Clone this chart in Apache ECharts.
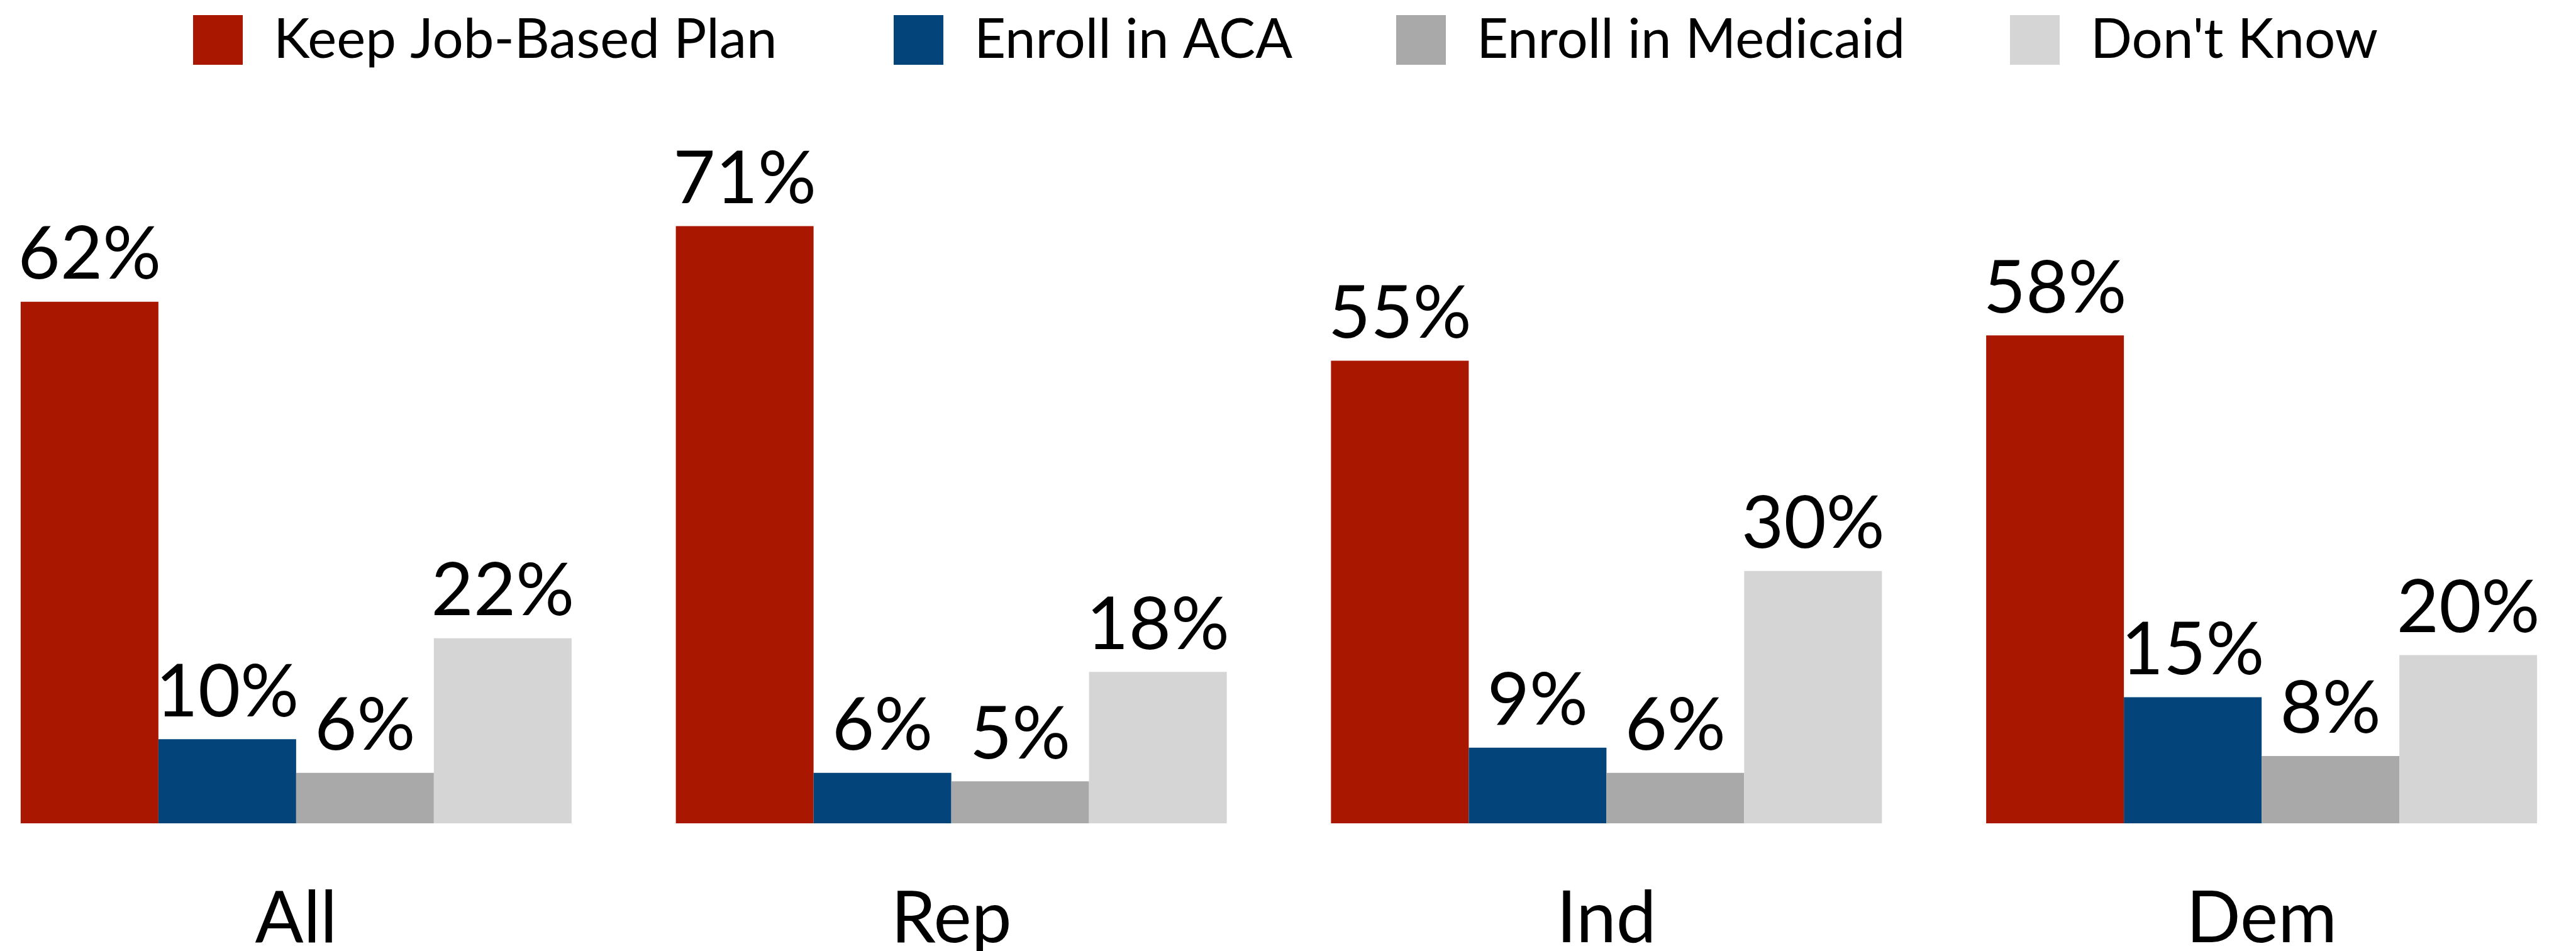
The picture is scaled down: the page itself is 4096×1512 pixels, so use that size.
<!DOCTYPE html>
<html>
<head>
<meta charset="utf-8">
<script src="https://cdn.jsdelivr.net/npm/echarts@6/dist/echarts.min.js"></script>
<style>
  html, body { margin: 0; padding: 0; background: #fff; overflow: hidden; }
  /* the outer categories run a little past the page edges, so the chart box is wider than the window */
  #chart { position: absolute; left: -50px; top: 0; width: 4167px; height: 1512px; }
</style>
</head>
<body>
<div id="chart"></div>
<script>
// party groups on the x axis
var categories = ['All', 'Rep', 'Ind', 'Dem']

var seriesNames = ['Keep Job-Based Plan', 'Enroll in ACA', 'Enroll in Medicaid', "Don't Know"]
var keepJobPlan = [62, 71, 55, 58]
var enrollAca = [10, 6, 9, 15]
var enrollMedicaid = [6, 5, 6, 8]
var dontKnow = [22, 18, 30, 20]

var colors = ['#aa1700', '#03457a', '#a9a9a9', '#d5d5d5']
var FONT = 'Lato, "Open Sans", sans-serif'

var chart = echarts.init(document.getElementById('chart'))

function barSeries(name, data, color) {
  return {
    name: name,
    type: 'bar',
    data: data,
    barWidth: 219,
    barGap: '0%',
    itemStyle: { color: color },
    label: {
      show: true,
      position: 'top',
      distance: 16,
      color: '#000',
      fontFamily: FONT,
      fontSize: 116,
      formatter: function (p) { return p.value + '%' }
    }
  }
}

// one legend per item so each box sits where the original puts it
var legendLefts = [357, 1471, 2270, 3246]
var legends = seriesNames.map(function (n, i) {
  return {
    data: [n],
    left: legendLefts[i],
    top: 20,
    padding: 0,
    itemWidth: 79,
    itemHeight: 79,
    icon: 'rect',
    selectedMode: false,
    textStyle: {
      color: '#000',
      fontFamily: FONT,
      fontSize: 87,
      padding: [0, 0, 0, 44]
    }
  }
})

chart.setOption({
  backgroundColor: '#fff',
  animation: false,
  legend: legends,
  grid: {
    left: 0,
    right: 0,
    top: 239,
    bottom: 203,
    outerBoundsMode: 'none'
  },
  xAxis: {
    type: 'category',
    data: categories,
    axisLine: { show: false },
    axisTick: { show: false },
    axisLabel: {
      color: '#000',
      fontFamily: FONT,
      fontSize: 114,
      margin: 95
    }
  },
  yAxis: {
    type: 'value',
    min: 0,
    max: 80,
    show: false,
    splitLine: { show: false }
  },
  series: [
    barSeries(seriesNames[0], keepJobPlan, colors[0]),
    barSeries(seriesNames[1], enrollAca, colors[1]),
    barSeries(seriesNames[2], enrollMedicaid, colors[2]),
    barSeries(seriesNames[3], dontKnow, colors[3])
  ]
})
</script>
</body>
</html>
